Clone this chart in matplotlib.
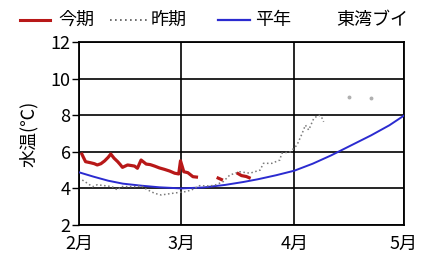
import numpy as np
import matplotlib
matplotlib.use("Agg")
import matplotlib.pyplot as plt
from matplotlib.lines import Line2D

plt.rcParams['font.family'] = ['Noto Sans CJK JP', 'DejaVu Sans']

# days counted from Feb 1
month_ticks = [0, 28, 59, 89]
month_labels = ['2月', '3月', '4月', '5月']

# 今期 (this season)
now_days = [0.6, 1.2, 1.8, 3.2, 4.2, 5.0, 6.0, 7.0, 8.0, 8.7, 9.6, 10.6, 11.3, 11.9, 13.3,
            14.3, 15.2, 16.0, 17.0, 18.4, 19.5, 20.7, 22.0, 23.4, 24.8, 26.2, 27.3, 27.8,
            28.7, 29.8, 31.2, 32.6,
            np.nan, 37.7, 39.4,
            np.nan, 43.2, 44.5, 45.8, 47.0]
now_vals = [5.95, 5.7, 5.46, 5.40, 5.35, 5.28, 5.35, 5.5, 5.7, 5.88, 5.65, 5.46, 5.3, 5.15, 5.28,
            5.25, 5.22, 5.10, 5.55, 5.33, 5.3, 5.22, 5.12, 5.04, 4.95, 4.83, 4.79, 5.51,
            4.91, 4.86, 4.64, 4.61,
            np.nan, 4.6, 4.45,
            np.nan, 4.85, 4.7, 4.65, 4.55]

# 昨期 (last season)
prev_days = [0.9, 2.3, 3.7, 5.0, 7.0, 9.0, 10.6, 11.5, 13.5, 15.6, 17.0, 18.5, 20.7, 22.5,
             24.5, 27.0, 29.0, 30.8, 33.0, 35.8, 37.5, 39.5, 41.3, 44.0, 46.8, 49.6, 50.5,
             52.8, 55.0, 55.5, 57.9, 59.7, 61.1, 62.0, 62.9, 64.3, 65.6, 66.3, 67.0]
prev_vals = [4.46, 4.28, 4.09, 4.2, 4.15, 4.1, 3.91, 4.1, 4.1, 4.1, 4.15, 3.95, 3.73, 3.64,
             3.7, 3.77, 3.82, 3.91, 4.15, 4.13, 4.2, 4.37, 4.73, 4.91, 4.83, 5.0, 5.37,
             5.37, 5.55, 5.92, 6.0, 6.37, 7.0, 7.46, 7.19, 7.83, 8.0, 7.95, 7.64]
prev_dot_days = [73.9, 79.9]
prev_dot_vals = [9.0, 8.92]

# 平年 (normal year)
norm_days = [0, 4, 8, 12, 17, 22, 28, 34, 40, 45, 49, 54, 59, 64, 69, 71, 75, 80, 85, 89]
norm_vals = [4.88, 4.64, 4.42, 4.26, 4.15, 4.06, 4.0, 4.05, 4.19, 4.35, 4.5, 4.72, 4.97,
             5.35, 5.8, 6.0, 6.4, 6.9, 7.45, 7.98]

fig = plt.figure(figsize=(4.22, 2.60), dpi=100)
ax = fig.add_axes([79 / 422, 35 / 260, 325 / 422, 183 / 260])

ax.plot(norm_days, norm_vals, color='#2b2bd0', lw=1.4, zorder=3)
ax.plot(prev_days, prev_vals, color='#7a7a7a', lw=1.1, ls=':', zorder=4)
ax.plot(prev_dot_days, prev_dot_vals, ls='none', marker='o', ms=1.8, color='#b0b0b0', zorder=4)
ax.plot(now_days, now_vals, color='#b81818', lw=2.3, zorder=5, solid_capstyle='butt')

ax.set_xlim(0, 89)
ax.set_ylim(2, 12)
ax.set_yticks([2, 4, 6, 8, 10, 12])
ax.set_xticks(month_ticks)
ax.set_xticklabels(month_labels)
ax.grid(True, color='black', lw=1.2)
for s in ax.spines.values():
    s.set_color('black')
    s.set_linewidth(1.3)
ax.tick_params(axis='x', length=0, pad=7, labelsize=13)
ax.tick_params(axis='y', length=5, width=1, pad=1, labelsize=13)
ax.set_ylabel('水温(℃)', fontsize=13)
ax.yaxis.set_label_coords(-0.125, 0.5)

# legend row
def leg_line(x0, x1, **kw):
    fig.add_artist(Line2D([x0 / 422, x1 / 422], [1 - 20 / 260] * 2,
                          transform=fig.transFigure, **kw))

leg_line(20, 50, color='#b81818', lw=2.2)
leg_line(110, 148, color='#555555', lw=1.2, ls=(0, (1, 2)))
leg_line(218, 250, color='#2b2bd0', lw=1.6)
ty = 1 - 20 / 260
fig.text(58 / 422, ty, '今期', fontsize=13, va='center')
fig.text(151 / 422, ty, '昨期', fontsize=13, va='center')
fig.text(255 / 422, ty, '平年', fontsize=13, va='center')
fig.text(408 / 422, ty, '東湾ブイ', fontsize=13, va='center', ha='right')

fig.savefig('out.png', dpi=100)
